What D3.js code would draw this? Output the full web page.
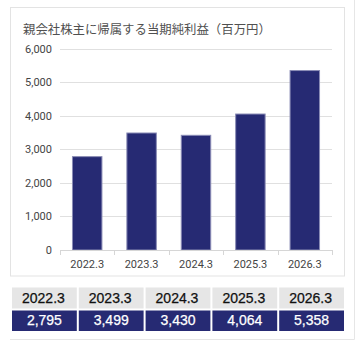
<!DOCTYPE html>
<html>
<head>
<meta charset="utf-8">
<script src="https://cdn.jsdelivr.net/npm/d3@7"></script>
<style>
  body { margin: 0; background: #fff; }
  svg { display: block; }
</style>
</head>
<body>
<div id="chart"></div>
<script>
// data
const title = "親会社株主に帰属する当期純利益（百万円）";
const years = ["2022.3", "2023.3", "2024.3", "2025.3", "2026.3"];
const profits = [2795, 3499, 3430, 4064, 5358];
const yTicks = [0, 1000, 2000, 3000, 4000, 5000, 6000];

const W = 357, H = 341;
const navy = "#262a73";

const svg = d3.select("#chart").append("svg")
    .attr("width", W)
    .attr("height", H);

// outer panel edges
svg.append("line").attr("x1", 354.5).attr("x2", 354.5).attr("y1", 0).attr("y2", 339.5)
    .attr("stroke", "#e6e6e6");
svg.append("line").attr("x1", 10).attr("x2", 354.5).attr("y1", 339.5).attr("y2", 339.5)
    .attr("stroke", "#e6e6e6");

// chart box
svg.append("rect")
    .attr("x", 10.5).attr("y", 7.5)
    .attr("width", 334).attr("height", 268.5)
    .attr("fill", "#fff")
    .attr("stroke", "#e3e3e3");

svg.append("text")
    .attr("x", 23)
    .attr("y", 34)
    .attr("font-family", "'Noto Sans CJK JP', sans-serif")
    .attr("font-size", 12.4)
    .attr("fill", "#505050")
    .text(title);

// scales
const x = d3.scaleBand()
    .domain(years)
    .range([60, 332])
    .paddingInner(0.44)
    .paddingOuter(0.22);

const y = d3.scaleLinear()
    .domain([0, 6000])
    .range([250, 48.5]);

// gridlines
svg.append("g")
    .selectAll("line")
    .data(yTicks.filter(d => d > 0))
    .join("line")
    .attr("x1", 60).attr("x2", 332)
    .attr("y1", d => Math.round(y(d)) + 0.5)
    .attr("y2", d => Math.round(y(d)) + 0.5)
    .attr("stroke", "#e0e0e0");

// y axis labels
const yAxis = svg.append("g")
    .attr("transform", "translate(60,0)")
    .call(d3.axisLeft(y).tickValues(yTicks).tickSize(0).tickPadding(8).tickFormat(d3.format(",")));
yAxis.select(".domain").remove();
yAxis.selectAll("text")
    .attr("font-family", "Roboto, 'Noto Sans', sans-serif")
    .attr("font-size", 11)
    .attr("fill", "#444");

// bars
svg.append("g")
    .selectAll("rect")
    .data(profits)
    .join("rect")
    .attr("x", (d, i) => x(years[i]) + 0.5)
    .attr("y", d => y(d) + 0.5)
    .attr("width", x.bandwidth() - 1)
    .attr("height", d => y(0) - y(d) - 0.5)
    .attr("fill", navy)
    .attr("stroke", "#8a8cb5")
    .attr("stroke-width", 1);

// x axis
const gap = (x.step() - x.bandwidth()) / 2;
const xAxis = svg.append("g")
    .attr("transform", `translate(0,${y(0)})`);
xAxis.append("line")
    .attr("x1", 60).attr("x2", 332)
    .attr("y1", 0.5).attr("y2", 0.5)
    .attr("stroke", "#d6d6d6");
xAxis.selectAll("line.tick")
    .data(d3.range(years.length + 1))
    .join("line")
    .attr("class", "tick")
    .attr("x1", i => Math.round(x(years[0]) - gap + i * x.step()) + 0.5)
    .attr("x2", i => Math.round(x(years[0]) - gap + i * x.step()) + 0.5)
    .attr("y1", 0).attr("y2", 5)
    .attr("stroke", "#d6d6d6");
xAxis.selectAll("text")
    .data(years)
    .join("text")
    .attr("x", d => x(d) + x.bandwidth() / 2)
    .attr("y", 18)
    .attr("text-anchor", "middle")
    .attr("font-family", "Roboto, 'Noto Sans', sans-serif")
    .attr("font-size", 11)
    .attr("fill", "#444")
    .text(d => d);

// table below
const tx = d3.scaleBand()
    .domain(years)
    .range([12, 346])
    .paddingInner(0);
const colW = tx.bandwidth() - 2;

const head = svg.append("g");
head.selectAll("rect")
    .data(years)
    .join("rect")
    .attr("x", d => tx(d))
    .attr("y", 287.5)
    .attr("width", colW)
    .attr("height", 21)
    .attr("fill", "#e6e6e6");
head.selectAll("text")
    .data(years)
    .join("text")
    .attr("x", d => tx(d) + colW / 2 - 1)
    .attr("y", 302.5)
    .attr("text-anchor", "middle")
    .attr("font-family", "'Liberation Sans', Arial, sans-serif")
    .attr("font-size", 14)
    .attr("fill", "#111")
    .attr("stroke", "#111")
    .attr("stroke-width", 0.25)
    .text(d => d);

const vals = svg.append("g");
vals.selectAll("rect")
    .data(profits)
    .join("rect")
    .attr("x", (d, i) => tx(years[i]))
    .attr("y", 310.5)
    .attr("width", colW)
    .attr("height", 20.5)
    .attr("fill", navy);
vals.selectAll("text")
    .data(profits)
    .join("text")
    .attr("x", (d, i) => tx(years[i]) + colW / 2)
    .attr("y", 324.5)
    .attr("text-anchor", "middle")
    .attr("font-family", "'Liberation Sans', Arial, sans-serif")
    .attr("font-size", 14)
    .attr("fill", "#fff")
    .attr("stroke", "#fff")
    .attr("stroke-width", 0.25)
    .text(d => d3.format(",")(d));
</script>
</body>
</html>
